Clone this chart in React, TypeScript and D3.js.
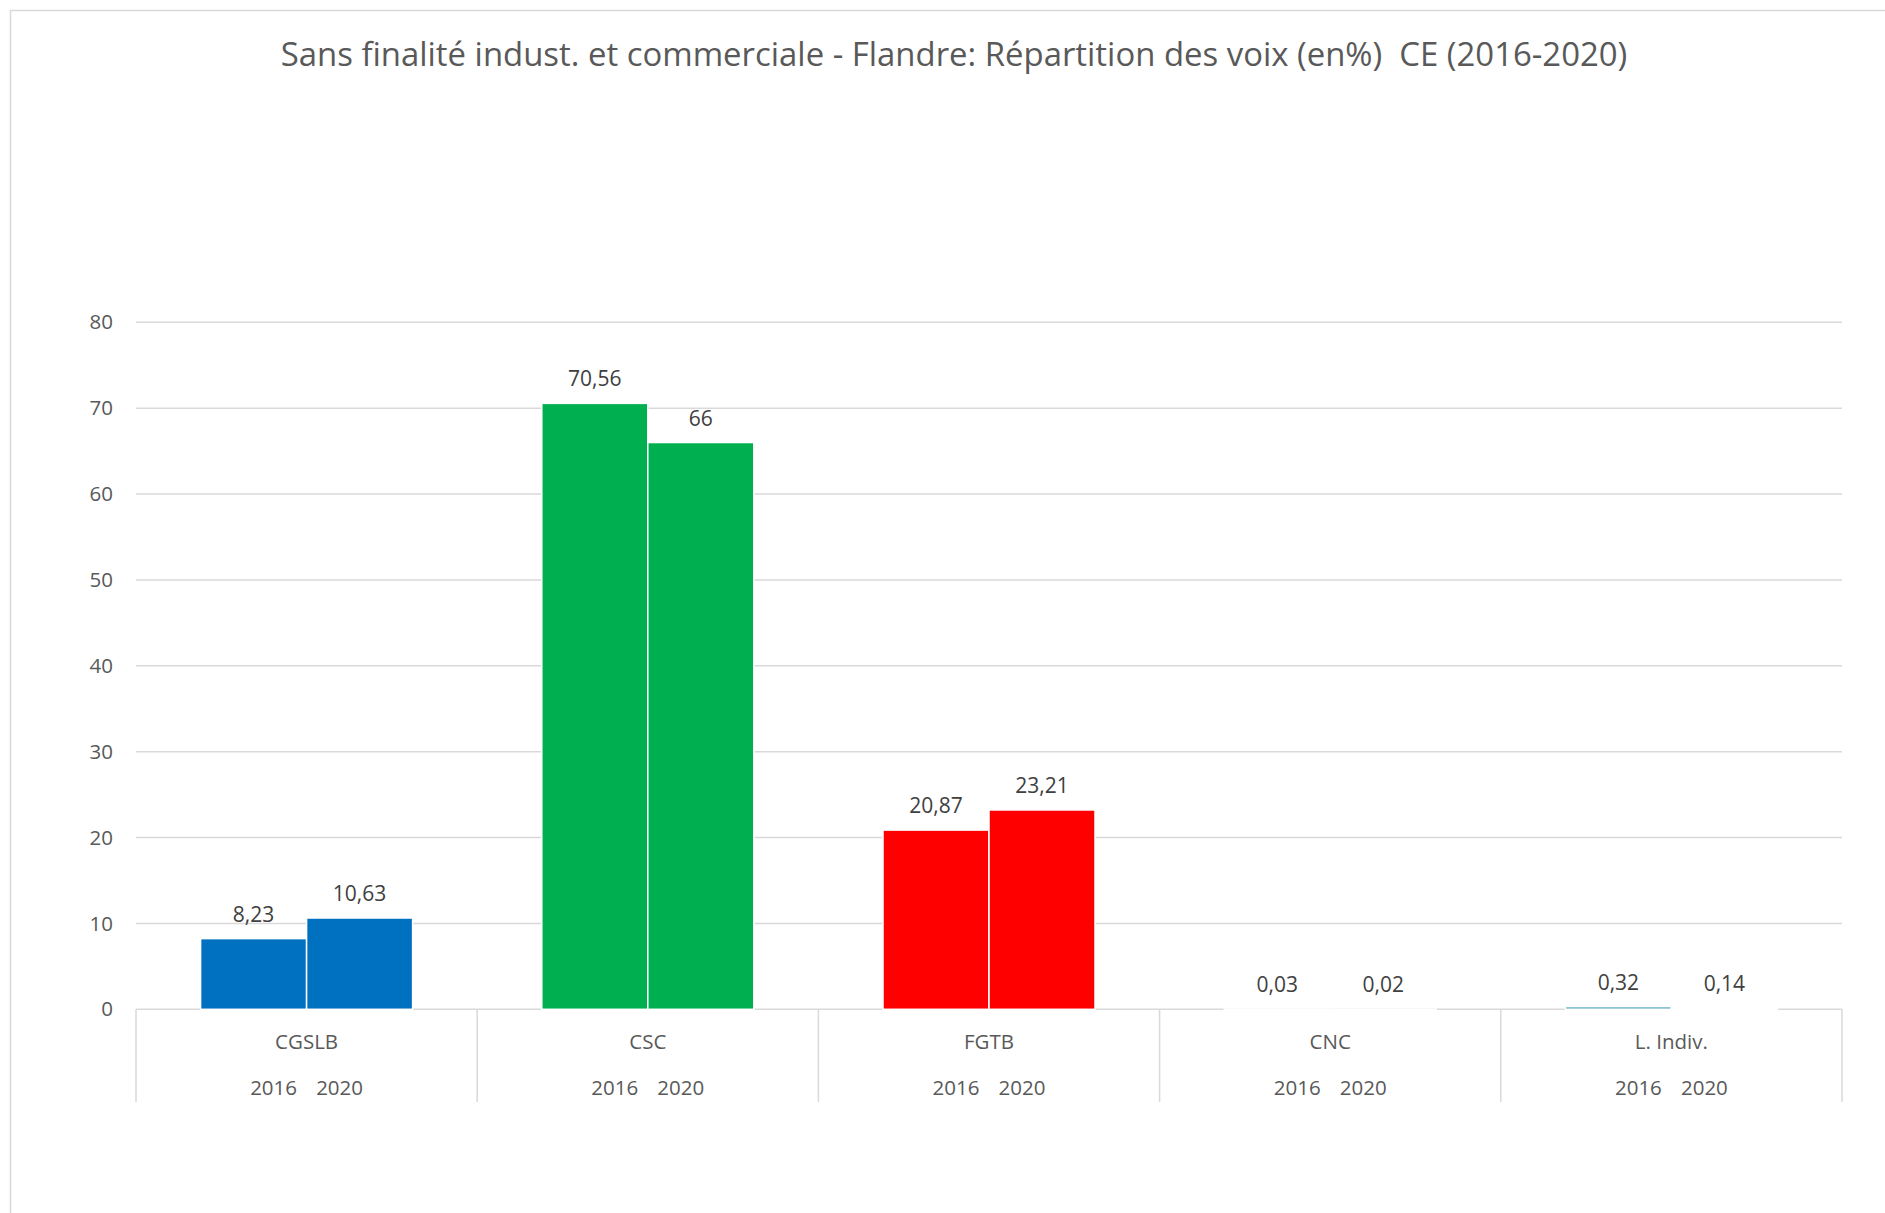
import React from "react";
import * as d3 from "d3";

const title = "Sans finalité indust. et commerciale - Flandre: Répartition des voix (en%)  CE (2016-2020)";
const categories = ["CGSLB", "CSC", "FGTB", "CNC", "L. Indiv."];
const years = ["2016", "2020"];
const values2016 = [8.23, 70.56, 20.87, 0.03, 0.32];
const values2020 = [10.63, 66, 23.21, 0.02, 0.14];
const labels2016 = ["8,23", "70,56", "20,87", "0,03", "0,32"];
const labels2020 = ["10,63", "66", "23,21", "0,02", "0,14"];
const colors = ["#0070C0", "#00B050", "#FF0000", "#D0D0D0", "#5FA9C4"];
const yTicks = [0, 10, 20, 30, 40, 50, 60, 70, 80];

const W = 1885;
const H = 1213;
const FONT = "'Open Sans', sans-serif";

export default function App() {
  const plotLeft = 136;
  const plotRight = 1842;
  const y = d3.scaleLinear().domain([0, 80]).range([1009.3, 322.3]);
  const x = d3.scaleBand<string>().domain(categories).range([plotLeft, plotRight]).paddingInner(0).paddingOuter(0);
  const groupW = 212;
  const xi = d3.scaleBand<string>().domain(years).range([0, groupW]).padding(0);
  const step = x.step();
  const boundaries = d3.range(categories.length + 1).map((i) => plotLeft + i * step);
  const y0 = y(0);

  return (
    <svg width={W} height={H} style={{ position: "absolute", left: 0, top: 0, background: "#fff" }}>
      <rect x={0} y={0} width={W} height={H} fill="#fff" />
      {/* frame */}
      <line x1={10} x2={W} y1={10.5} y2={10.5} stroke="#d9d9d9" strokeWidth={1.5} />
      <line x1={10.5} x2={10.5} y1={10} y2={H} stroke="#d9d9d9" strokeWidth={1.5} />
      {/* title */}
      <text x={954} y={66} textAnchor="middle" fontFamily={FONT} fontSize={32.9} fill="#595959" style={{ whiteSpace: "pre" }}>
        {title}
      </text>
      {/* gridlines */}
      {yTicks.map((t) => (
        <g key={t}>
          <line x1={plotLeft} x2={plotRight} y1={y(t)} y2={y(t)} stroke="#d9d9d9" strokeWidth={1.5} />
          <text x={113} y={y(t)} dy="0.35em" textAnchor="end" fontFamily={FONT} fontSize={20.5} fill="#595959">
            {t}
          </text>
        </g>
      ))}
      {/* separators */}
      {boundaries.map((bx, i) => (
        <line key={i} x1={bx} x2={bx} y1={y0} y2={1102} stroke="#d9d9d9" strokeWidth={1.5} />
      ))}
      {/* bars */}
      {categories.map((c, i) => {
        const gx = (x(c) as number) + step / 2 - groupW / 2;
        const vals = [values2016[i], values2020[i]];
        const labs = [labels2016[i], labels2020[i]];
        return (
          <g key={c}>
            {years.map((yr, j) => {
              const bx = gx + (xi(yr) as number);
              const bw = xi.bandwidth();
              const top = y(vals[j]);
              return (
                <g key={yr}>
                  <rect
                    x={bx}
                    y={top}
                    width={bw}
                    height={Math.max(0, y0 - top)}
                    fill={colors[i]}
                    stroke="#ffffff"
                    strokeWidth={1.5}
                  />
                  <text
                    x={bx + bw / 2}
                    y={top - 17}
                    textAnchor="middle"
                    fontFamily={FONT}
                    fontSize={21}
                    fill="#404040"
                  >
                    {labs[j]}
                  </text>
                </g>
              );
            })}
            <text
              x={(x(c) as number) + step / 2}
              y={1042}
              dy="0.35em"
              textAnchor="middle"
              fontFamily={FONT}
              fontSize={20.5}
              fill="#595959"
            >
              {c}
            </text>
            {years.map((yr, j) => (
              <text
                key={yr}
                x={(x(c) as number) + step / 2 + (j === 0 ? -33 : 33)}
                y={1088}
                dy="0.35em"
                textAnchor="middle"
                fontFamily={FONT}
                fontSize={20.5}
                fill="#595959"
              >
                {yr}
              </text>
            ))}
          </g>
        );
      })}
    </svg>
  );
}
